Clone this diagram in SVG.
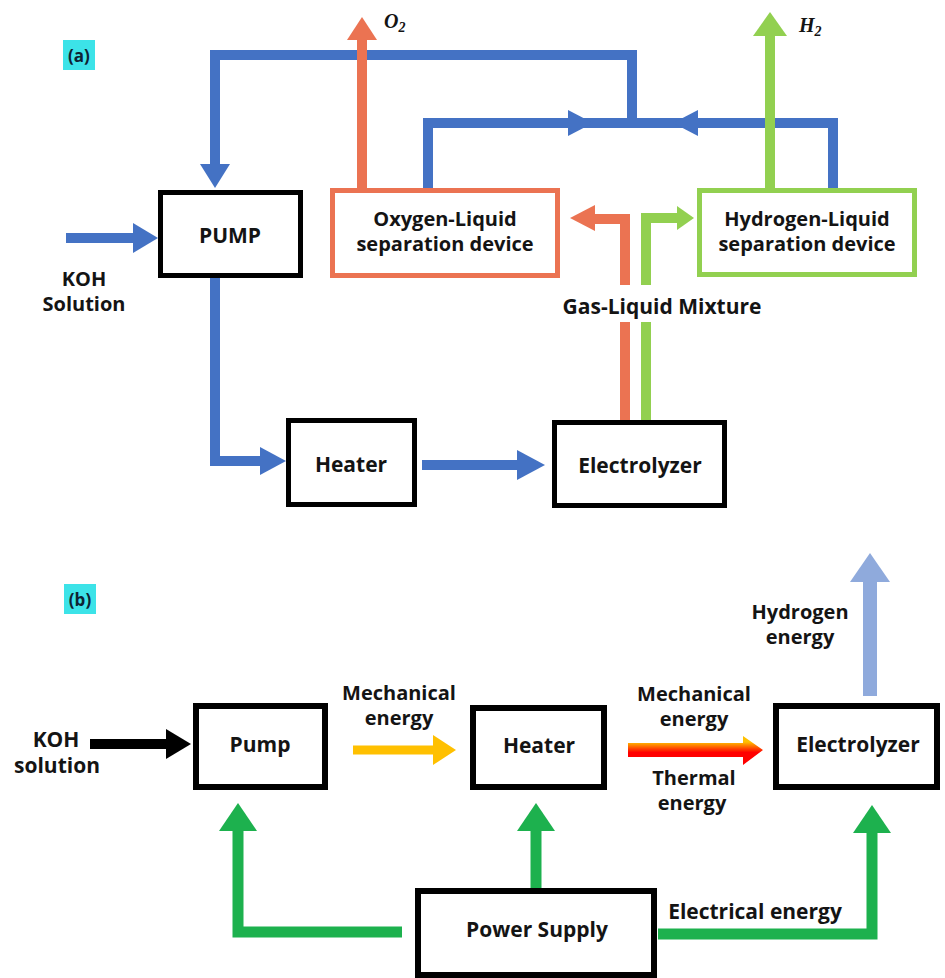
<svg xmlns="http://www.w3.org/2000/svg" width="945" height="978" viewBox="0 0 945 978">
<style>
.t{font-family:"Open Sans","Noto Sans",sans-serif;font-weight:700;font-size:21px;fill:#141414;text-anchor:middle}
.s{font-size:20px}
.lab{font-family:"Open Sans","Noto Sans",sans-serif;font-weight:700;font-size:17px;fill:#0e2233;text-anchor:middle}
.chem{font-family:"Liberation Serif",serif;font-weight:700;font-style:italic;font-size:20px;fill:#141414}
.box{fill:#fff;stroke:#000;stroke-width:5}
.boxb{fill:#fff;stroke:#000;stroke-width:6}
.ln{fill:none;stroke-linejoin:miter;stroke-linecap:butt}
.blue{stroke:#4472C4;stroke-width:10}
.fblue{fill:#4472C4}
.org{stroke:#EB7352;stroke-width:10}
.forg{fill:#EB7352}
.lg{stroke:#92D050;stroke-width:10}
.flg{fill:#92D050}
.dg{stroke:#1DB14E;stroke-width:11}
.fdg{fill:#1DB14E}
.blk{stroke:#000;stroke-width:10}
.fblk{fill:#000}
.yel{stroke:#FFC000;stroke-width:9}
.fyel{fill:#FFC000}
.lb{stroke:#8FAADC;stroke-width:14}
.flb{fill:#8FAADC}
</style>
<defs>
<linearGradient id="heat" gradientUnits="userSpaceOnUse" x1="0" y1="742" x2="0" y2="758">
<stop offset="0" stop-color="#FFC000"/>
<stop offset="0.45" stop-color="#FF3A00"/>
<stop offset="0.65" stop-color="#FF0000"/>
<stop offset="1" stop-color="#FF0000"/>
</linearGradient>
</defs>
<rect width="945" height="978" fill="#fff"/>

<g id="connectors">
<path class="ln blue" d="M632 123V55H215V166"/>
<polygon class="fblue" points="200,164 230,164 215,188"/>
<path class="ln blue" d="M428 190V123H632"/>
<polygon class="fblue" points="568,110 568,136 593,123"/>
<path class="ln blue" d="M833 190V123H632"/>
<polygon class="fblue" points="698,110 698,136 673,123"/>
<path class="ln blue" d="M66 238H135"/>
<polygon class="fblue" points="133,223 133,253 158,238"/>
<path class="ln blue" d="M215 278V461H262"/>
<polygon class="fblue" points="260,447 260,475 286,461"/>
<path class="ln blue" d="M422 465H519"/>
<polygon class="fblue" points="517,450 517,480 545,465"/>
<path class="ln org" d="M362 190V38"/>
<polygon class="forg" points="347,40 377,40 362,17"/>
<path class="ln lg" d="M770 190V34"/>
<polygon class="flg" points="753,36 787,36 770,12"/>
<path class="ln org" d="M625 285V219H593"/>
<path class="ln org" d="M625 322V424"/>
<polygon class="forg" points="595,205 595,231 570,218"/>
<path class="ln lg" d="M646 285V218H680"/>
<path class="ln lg" d="M646 322V424"/>
<polygon class="flg" points="677,206 677,230 694,218"/>
<path class="ln blk" d="M90 744H168"/>
<polygon class="fblk" points="166,729 166,759 191,744"/>
<path class="ln yel" d="M353 750H435"/>
<polygon class="fyel" points="433,735 433,765 456,750"/>
<polygon fill="url(#heat)" points="628,743 743,743 743,736 763,750 743,765 743,757 628,757"/>
<path class="ln dg" d="M402 932H238V828"/>
<polygon class="fdg" points="219,831 257,831 238,803"/>
<path class="ln dg" d="M536 892V828"/>
<polygon class="fdg" points="517,831 555,831 536,803"/>
<path class="ln dg" d="M658 934H872V830"/>
<polygon class="fdg" points="853,833 891,833 872,805"/>
<path class="ln lb" d="M870 696V580"/>
<polygon class="flb" points="850,582 890,582 870,553"/>
</g>

<g id="label-a">
<rect x="63" y="40" width="32" height="30" fill="#3CE3E8"/>
<text class="lab" x="79" y="62">(a)</text>
</g>
<g id="pump-a">
<rect class="box" x="160.5" y="192.5" width="140" height="83"/>
<text class="t" x="230" y="243">PUMP</text>
</g>
<g id="oxygen-separator">
<rect class="box" x="332.5" y="190.5" width="225" height="85" style="stroke:#EB7352"/>
<text class="t s" x="445" y="226">Oxygen-Liquid</text>
<text class="t s" x="445" y="251">separation device</text>
</g>
<g id="hydrogen-separator">
<rect class="box" x="699.5" y="190.5" width="215" height="84" style="stroke:#92D050"/>
<text class="t s" x="807" y="226">Hydrogen-Liquid</text>
<text class="t s" x="807" y="251">separation device</text>
</g>
<g id="koh-a">
<text class="t s" x="84" y="286">KOH</text>
<text class="t s" x="84" y="311">Solution</text>
</g>
<g id="mixture-label">
<text class="t" x="662" y="314">Gas-Liquid Mixture</text>
</g>
<g id="o2">
<text class="chem" x="384" y="28">O<tspan font-size="14" dy="4">2</tspan></text>
</g>
<g id="h2">
<text class="chem" x="799" y="32">H<tspan font-size="14" dy="4">2</tspan></text>
</g>
<g id="heater-a">
<rect class="box" x="288.5" y="420.5" width="126" height="84"/>
<text class="t" x="351" y="472">Heater</text>
</g>
<g id="electrolyzer-a">
<rect class="box" x="554.5" y="422.5" width="170" height="83"/>
<text class="t" x="640" y="473">Electrolyzer</text>
</g>

<g id="label-b">
<rect x="64" y="584" width="32" height="30" fill="#3CE3E8"/>
<text class="lab" x="80" y="606">(b)</text>
</g>
<g id="koh-b">
<text class="t" x="56" y="747">KOH</text>
<text class="t" x="57" y="773">solution</text>
</g>
<g id="pump-b">
<rect class="boxb" x="196" y="706" width="129" height="81"/>
<text class="t" x="260" y="752">Pump</text>
</g>
<g id="mech-label-1">
<text class="t s" x="399" y="700">Mechanical</text>
<text class="t s" x="399" y="725">energy</text>
</g>
<g id="heater-b">
<rect class="boxb" x="473" y="708" width="131" height="79"/>
<text class="t" x="539" y="753">Heater</text>
</g>
<g id="mech-label-2">
<text class="t s" x="694" y="701">Mechanical</text>
<text class="t s" x="694" y="726">energy</text>
</g>
<g id="thermal-label">
<text class="t s" x="694" y="785">Thermal</text>
<text class="t s" x="692" y="810">energy</text>
</g>
<g id="electrolyzer-b">
<rect class="boxb" x="776" y="706" width="161" height="81"/>
<text class="t" x="858" y="752">Electrolyzer</text>
</g>
<g id="hydrogen-energy-label">
<text class="t s" x="800" y="619">Hydrogen</text>
<text class="t s" x="800" y="644">energy</text>
</g>
<g id="power-supply">
<rect class="boxb" x="418" y="891" width="236" height="84"/>
<text class="t" x="537" y="937">Power Supply</text>
</g>
<g id="electrical-label">
<text class="t" x="755" y="919">Electrical energy</text>
</g>
</svg>
